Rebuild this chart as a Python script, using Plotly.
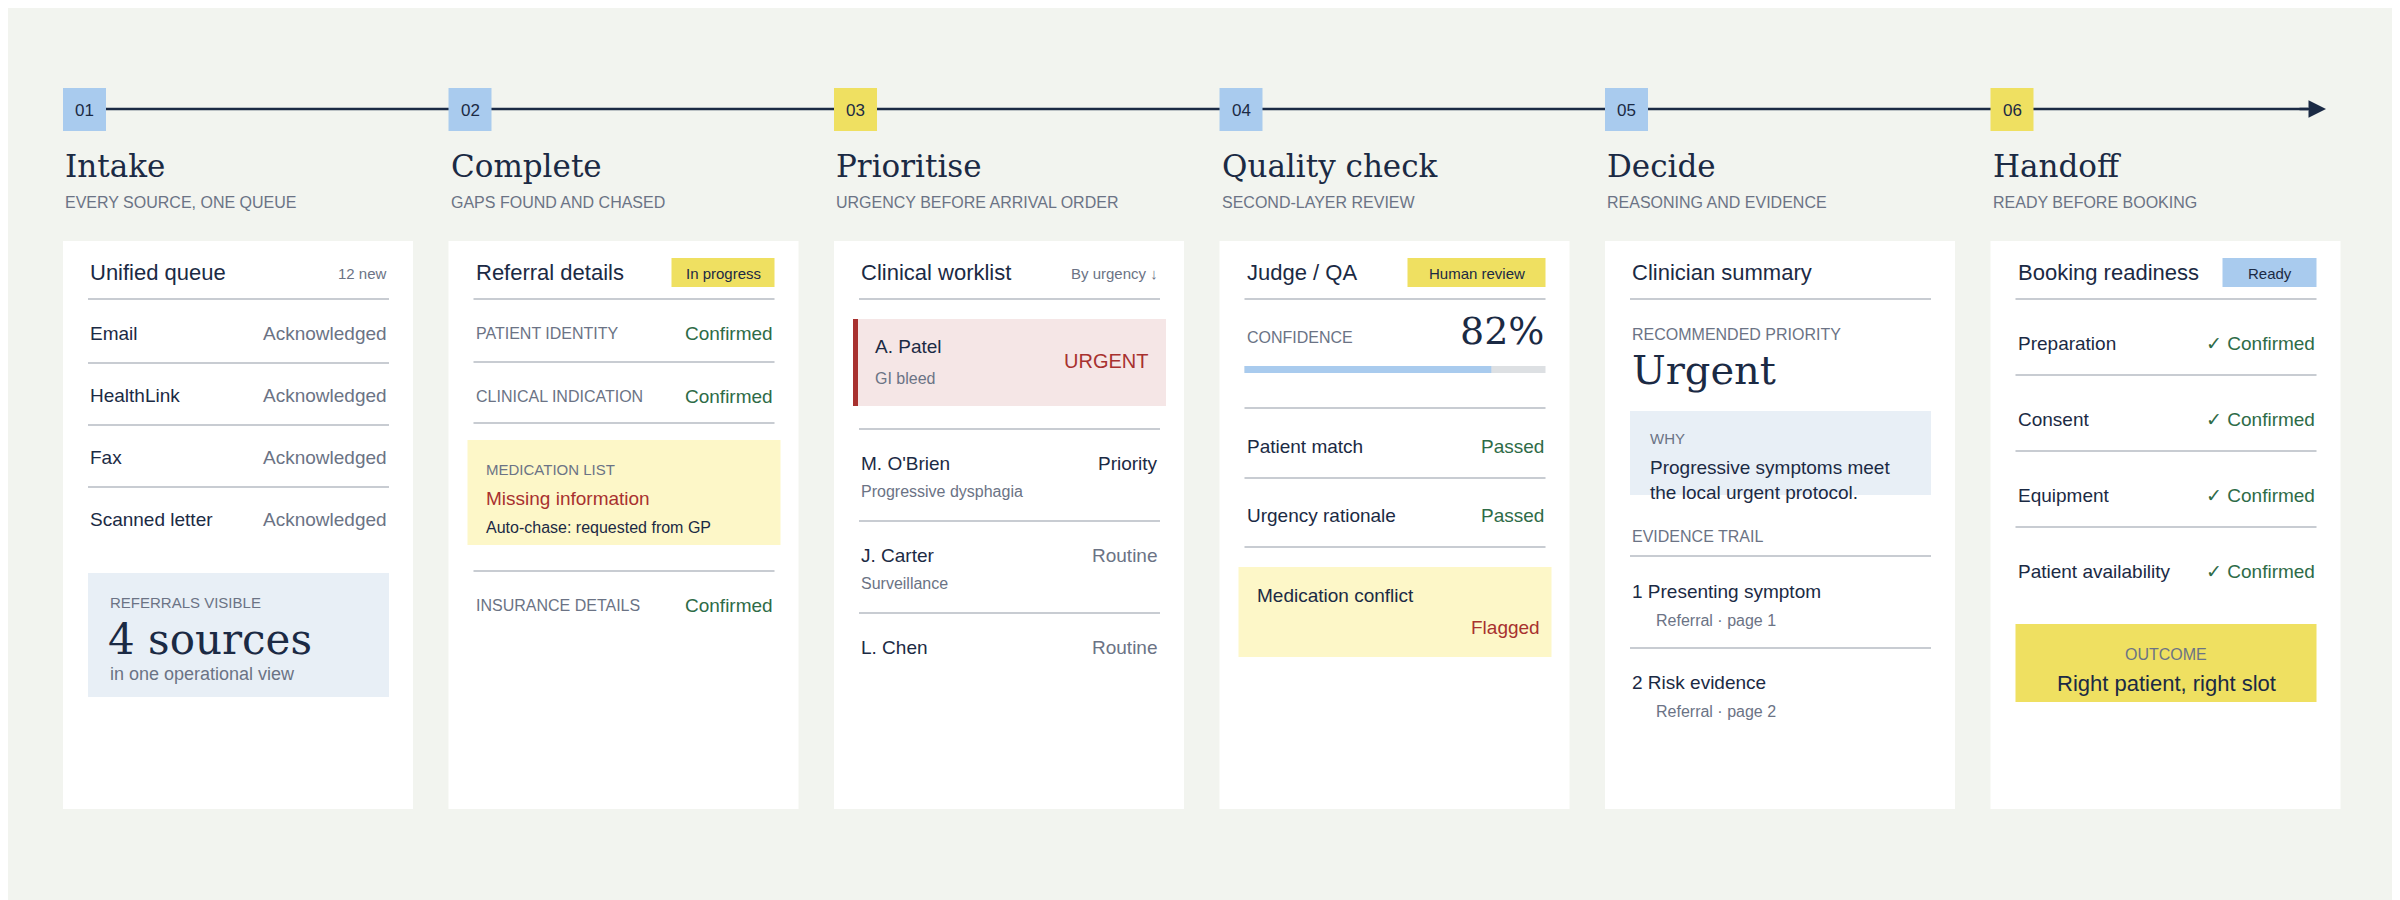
import plotly.graph_objects as go

# --- data ---------------------------------------------------------------
step_nums = ["01", "02", "03", "04", "05", "06"]
step_titles = ["Intake", "Complete", "Prioritise", "Quality check", "Decide", "Handoff"]
step_subtitles = ["EVERY SOURCE, ONE QUEUE", "GAPS FOUND AND CHASED", "URGENCY BEFORE ARRIVAL ORDER",
                  "SECOND-LAYER REVIEW", "REASONING AND EVIDENCE", "READY BEFORE BOOKING"]
card_headers = ["Unified queue", "Referral details", "Clinical worklist", "Judge / QA",
                "Clinician summary", "Booking readiness"]
header_tags = ["12 new", "In progress", "By urgency ↓", "Human review", "", "Ready"]

intake_sources = ["Email", "HealthLink", "Fax", "Scanned letter"]
intake_status = ["Acknowledged", "Acknowledged", "Acknowledged", "Acknowledged"]
sources_count = 4

complete_fields = ["PATIENT IDENTITY", "CLINICAL INDICATION", "INSURANCE DETAILS"]
complete_status = ["Confirmed", "Confirmed", "Confirmed"]

worklist_names = ["A. Patel", "M. O'Brien", "J. Carter", "L. Chen"]
worklist_reasons = ["GI bleed", "Progressive dysphagia", "Surveillance", ""]
worklist_priority = ["URGENT", "Priority", "Routine", "Routine"]

confidence = 82
qa_checks = ["Patient match", "Urgency rationale", "Medication conflict"]
qa_results = ["Passed", "Passed", "Flagged"]

evidence_items = ["1 Presenting symptom", "2 Risk evidence"]
evidence_refs = ["Referral · page 1", "Referral · page 2"]

readiness_items = ["Preparation", "Consent", "Equipment", "Patient availability"]
readiness_status = ["✓ Confirmed", "✓ Confirmed", "✓ Confirmed", "✓ Confirmed"]

# --- style --------------------------------------------------------------
BG = "#f2f4ef"
NAVY = "#1b2a44"
GREY = "#6b7385"
GREEN = "#2e6b47"
RED = "#a8312f"
BLUE = "#a9cbee"
YELLOW = "#efe061"
PALE_Y = "#fdf7c8"
PALE_B = "#e8eff6"
PINK = "#f5e6e6"
RULE = "#c8ccd2"
SANS = "Liberation Sans, Arial, sans-serif"
SERIF = "DejaVu Serif, serif"

fig = go.Figure()
shapes = []
annos = []


def rect(x0, y0, x1, y1, color):
    shapes.append(dict(type="rect", x0=x0, y0=y0, x1=x1, y1=y1, fillcolor=color,
                       line=dict(width=0), layer="below"))


def hline(x0, x1, y, color=RULE, w=2):
    shapes.append(dict(type="line", x0=x0, x1=x1, y0=y, y1=y, line=dict(color=color, width=w)))


def txt(x, y, s, size=19, color=NAVY, anchor="left", font=SANS):
    annos.append(dict(x=x, y=y, text=s, showarrow=False, xanchor=anchor, yanchor="middle",
                      font=dict(size=size, color=color, family=font)))


STEP = 385.5
X0 = 55
CW = 350
TL_Y = 101

# timeline
hline(X0, 2300, TL_Y, NAVY, 2.5)
annos.append(dict(x=2318, y=TL_Y, ax=2290, ay=TL_Y, axref="x", ayref="y", showarrow=True,
                  arrowhead=2, arrowsize=1.4, arrowwidth=2.5, arrowcolor=NAVY, text=""))

for i in range(6):
    cx = X0 + i * STEP
    badge = YELLOW if i in (2, 5) else BLUE
    shapes.append(dict(type="rect", x0=cx, y0=80, x1=cx + 43, y1=123, fillcolor=badge, line=dict(width=0)))
    txt(cx + 21.5, 102, step_nums[i], 17, NAVY, "center")
    txt(cx, 158, step_titles[i], 31, NAVY, "left", SERIF)
    txt(cx, 194, step_subtitles[i], 16, GREY)
    rect(cx, 233, cx + CW, 801, "white")
    L, R = cx + 25, cx + 326
    txt(L, 264, card_headers[i], 22)
    hline(L, R, 291)
    tag = header_tags[i]
    if i in (0, 2):
        txt(R, 265, tag, 15, GREY, "right")
    elif tag:
        w = {"In progress": 103, "Human review": 138, "Ready": 94}[tag]
        shapes.append(dict(type="rect", x0=R - w, y0=250, x1=R, y1=279,
                           fillcolor=BLUE if tag == "Ready" else YELLOW, line=dict(width=0)))
        txt(R - w / 2, 265, tag, 15, NAVY, "center")

# card 1 - intake
L, R = X0 + 25, X0 + 326
for j, (s, st) in enumerate(zip(intake_sources, intake_status)):
    y = 325 + j * 62
    txt(L, y, s, 19)
    txt(R, y, st, 19, GREY, "right")
    if j < 3:
        hline(L, R, y + 30)
rect(L, 565, R, 689, PALE_B)
txt(L + 20, 594, "REFERRALS VISIBLE", 15, GREY)
txt(L + 18, 631, f"{sources_count} sources", 42, NAVY, "left", SERIF)
txt(L + 20, 666, "in one operational view", 18, GREY)

# card 2 - complete
cx = X0 + STEP
L, R = cx + 25, cx + 326
for j, y in enumerate([325, 388]):
    txt(L, y, complete_fields[j], 16, GREY)
    txt(R, y, complete_status[j], 19, GREEN, "right")
hline(L, R, 354)
hline(L, R, 415)
rect(L - 6, 432, R + 6, 537, PALE_Y)
txt(L + 10, 461, "MEDICATION LIST", 15, GREY)
txt(L + 10, 490, "Missing information", 19, RED)
txt(L + 10, 519, "Auto-chase: requested from GP", 16, NAVY)
hline(L, R, 563)
txt(L, 597, complete_fields[2], 16, GREY)
txt(R, 597, complete_status[2], 19, GREEN, "right")

# card 3 - prioritise
cx = X0 + 2 * STEP
L, R = cx + 25, cx + 326
rect(L - 6, 311, R + 6, 398, PINK)
rect(L - 6, 311, L - 1, 398, RED)
txt(L + 14, 338, worklist_names[0], 19)
txt(L + 14, 370, worklist_reasons[0], 16, GREY)
txt(R - 10, 353, worklist_priority[0], 20, RED, "right")
for j in range(1, 4):
    y = 455 + (j - 1) * 92
    hline(L, R, y - 34)
    txt(L, y, worklist_names[j], 19)
    txt(R, y, worklist_priority[j], 19, NAVY if j == 1 else GREY, "right")
    if worklist_reasons[j]:
        txt(L, y + 28, worklist_reasons[j], 16, GREY)

# card 4 - quality check
cx = X0 + 3 * STEP
L, R = cx + 25, cx + 326
txt(L, 329, "CONFIDENCE", 16, GREY)
txt(R, 323, f"{confidence}%", 38, NAVY, "right", SERIF)
rect(L, 358, R, 365, "#dde0e3")
rect(L, 358, L + (R - L) * confidence / 100, 365, BLUE)
hline(L, R, 400)
for j in range(2):
    y = 438 + j * 69
    txt(L, y, qa_checks[j], 19)
    txt(R, y, qa_results[j], 19, GREEN, "right")
    hline(L, R, y + 32)
rect(L - 6, 559, R + 6, 649, PALE_Y)
txt(L + 10, 587, qa_checks[2], 19)
txt(R - 4, 619, qa_results[2], 19, RED, "right")

# card 5 - decide
cx = X0 + 4 * STEP
L, R = cx + 25, cx + 326
txt(L, 326, "RECOMMENDED PRIORITY", 16, GREY)
txt(L, 362, "Urgent", 40, NAVY, "left", SERIF)
rect(L, 403, R, 487, PALE_B)
txt(L + 18, 430, "WHY", 15, GREY)
txt(L + 18, 459, "Progressive symptoms meet", 19)
txt(L + 18, 484, "the local urgent protocol.", 19)
txt(L, 528, "EVIDENCE TRAIL", 16, GREY)
hline(L, R, 548)
for j in range(2):
    y = 583 + j * 91
    txt(L, y, evidence_items[j], 19)
    txt(L + 24, y + 29, evidence_refs[j], 16, GREY)
hline(L, R, 640)

# card 6 - handoff
cx = X0 + 5 * STEP
L, R = cx + 25, cx + 326
for j in range(4):
    y = 335 + j * 76
    txt(L, y, readiness_items[j], 19)
    txt(R, y, readiness_status[j], 19, GREEN, "right")
    if j < 3:
        hline(L, R, y + 32)
rect(L, 616, R, 694, YELLOW)
txt((L + R) / 2, 646, "OUTCOME", 16, GREY, "center")
txt((L + R) / 2, 675, "Right patient, right slot", 22, NAVY, "center")

fig.update_layout(
    width=2400, height=900, margin=dict(l=0, r=0, t=0, b=0),
    paper_bgcolor=BG, plot_bgcolor=BG, showlegend=False,
    xaxis=dict(range=[0, 2400], visible=False, fixedrange=True),
    yaxis=dict(range=[900, 0], visible=False, fixedrange=True),
    shapes=shapes, annotations=annos,
)
fig.write_html("out.html")
